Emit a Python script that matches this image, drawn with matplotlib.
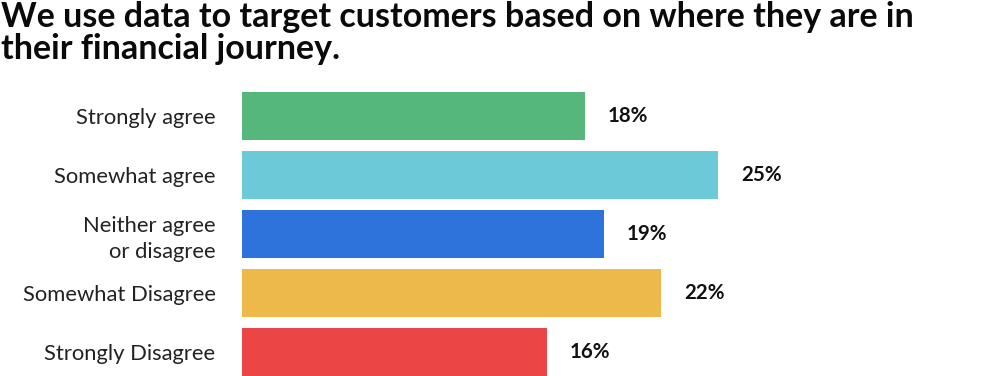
import matplotlib.pyplot as plt

# survey answers, top to bottom
categories = ['Strongly agree', 'Somewhat agree', 'Neither agree\nor disagree',
              'Somewhat Disagree', 'Strongly Disagree']
values = [18, 25, 19, 22, 16]
colors = ['#56b77a', '#6cc9d8', '#2e72dc', '#ecb94a', '#ec4546']

plt.rcParams['font.family'] = ['Lato', 'DejaVu Sans']

fig = plt.figure(figsize=(10, 3.76), dpi=100)
ax = fig.add_axes([0.242, 0.0, 0.758, 296 / 376])

ypos = list(range(len(values)))
ax.barh(ypos, values, height=0.8, color=colors)
ax.set_xlim(0, 758 / 19.05)
ax.set_ylim((376 - 116) / 59, (80 - 116) / 59)

for y, v in zip(ypos, values):
    ax.annotate(f'{v}%', (v, y), xytext=(16.5, 0), textcoords='offset points',
                va='center', ha='left', fontsize=14.8, fontweight='bold', color='#111111')

ax.set_yticks(ypos)
ax.set_yticklabels(categories, fontsize=15.8, color='#222222', linespacing=1.35)
ax.tick_params(axis='y', length=0, pad=19)
ax.set_xticks([])
for s in ax.spines.values():
    s.set_visible(False)

fig.text(0.001, 1 - 1 / 376,
         'We use data to target customers based on where they are in\ntheir financial journey.',
         ha='left', va='top', fontsize=24.5, fontweight='bold', color='#0a0a0a', linespacing=1.0)

fig.savefig('out.png', dpi=100)
